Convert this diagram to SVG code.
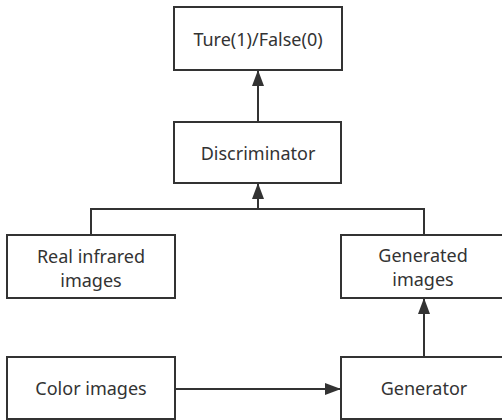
<svg xmlns="http://www.w3.org/2000/svg" width="502" height="420" viewBox="0 0 502 420">
<defs>
<marker id="arr" viewBox="0 0 16 12" refX="16" refY="6" markerWidth="16" markerHeight="12" markerUnits="userSpaceOnUse" orient="auto">
<path d="M0,0 L16,6 L0,12 Z" fill="#333"/>
</marker>
<style>
.box{fill:#fff;stroke:#333;stroke-width:2}
.lbl{font-family:"Noto Sans","Open Sans",sans-serif;font-size:18px;fill:#333;text-anchor:middle}
.edge{fill:none;stroke:#333;stroke-width:2}
</style>
</defs>
<rect width="502" height="420" fill="#fff"/>
<g id="connectors">
<path class="edge" d="M258,122 L258,70" marker-end="url(#arr)"/>
<path class="edge" d="M91,235 L91,209 L424,209 L424,235"/>
<path class="edge" d="M258,209 L258,183" marker-end="url(#arr)"/>
<path class="edge" d="M424,357 L424,298" marker-end="url(#arr)"/>
<path class="edge" d="M175,389 L341,389" marker-end="url(#arr)"/>
</g>
<g id="output">
<rect class="box" x="174" y="7" width="168" height="63"/>
<text class="lbl" x="258" y="46">Ture(1)/False(0)</text>
</g>
<g id="discriminator">
<rect class="box" x="174" y="122" width="167" height="61"/>
<text class="lbl" x="258" y="160">Discriminator</text>
</g>
<g id="real">
<rect class="box" x="7" y="235" width="168" height="63"/>
<text class="lbl" x="91" y="263">Real infrared</text>
<text class="lbl" x="91" y="287">images</text>
</g>
<g id="generated">
<rect class="box" x="341" y="235" width="170" height="63"/>
<text class="lbl" x="423" y="262">Generated</text>
<text class="lbl" x="423" y="286">images</text>
</g>
<g id="color">
<rect class="box" x="7" y="357" width="168" height="62"/>
<text class="lbl" x="91" y="395">Color images</text>
</g>
<g id="generator">
<rect class="box" x="341" y="357" width="170" height="62"/>
<text class="lbl" x="424" y="395">Generator</text>
</g>
</svg>
